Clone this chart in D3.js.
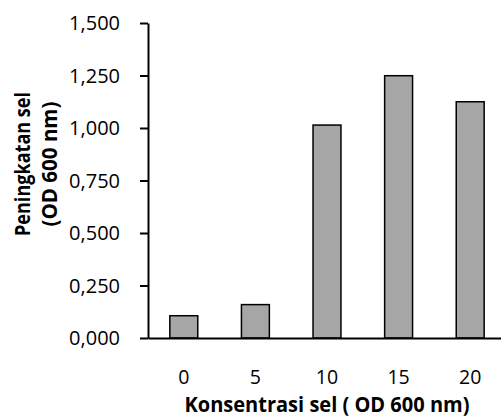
<!DOCTYPE html>
<html><head><meta charset="utf-8">
<script src="https://cdn.jsdelivr.net/npm/d3@7"></script>
<style>body{margin:0;background:#fff}svg{display:block}text{font-family:"Open Sans",sans-serif;fill:#000}</style>
</head><body><svg id="c" width="501" height="418"></svg>
<script>
const categories = ["0","5","10","15","20"];
const values = [0.106, 0.159, 1.014, 1.249, 1.125];
const yTicks = [0, 0.25, 0.5, 0.75, 1.0, 1.25, 1.5];
const xTitle = "Konsentrasi sel ( OD 600 nm)";
const yTitle = ["Peningkatan sel", "(OD 600 nm)"];

const svg = d3.select("#c");
const x = d3.scaleBand().domain(categories).range([148, 506]).paddingInner(0.61).paddingOuter(0.305);
const y = d3.scaleLinear().domain([0, 1.5]).range([338, 23]);
const fmt = v => d3.format(".3f")(v).replace(".", ",");

svg.selectAll("rect.bar").data(values).join("rect").attr("class","bar")
  .attr("x",(d,i)=>x(categories[i])).attr("width",x.bandwidth())
  .attr("y",d=>y(d)).attr("height",d=>y(0)-y(d))
  .attr("fill","#a6a6a6").attr("stroke","#000").attr("stroke-width",1.5);

const ya = svg.append("g").attr("transform","translate(148,0)")
  .call(d3.axisLeft(y).tickValues(yTicks).tickFormat(fmt).tickSize(8).tickSizeOuter(0));
ya.select(".domain").attr("stroke","#000").attr("stroke-width",2);
ya.selectAll(".tick line").attr("stroke","#000").attr("stroke-width",2);
ya.selectAll(".tick text").attr("x",-28).attr("dy","0.34em").style("font-size","20px").style("font-family","Open Sans");

const xa = svg.append("g").attr("transform","translate(0,338)")
  .call(d3.axisBottom(x).tickSize(0).tickSizeOuter(0));
xa.select(".domain").attr("stroke","#000").attr("stroke-width",2);
xa.selectAll(".tick text").attr("y",45.5).attr("dy",0).style("font-size","19.5px").style("font-family","Open Sans");

svg.append("text").attr("x",327).attr("y",411.5).attr("text-anchor","middle")
  .attr("textLength",285).attr("lengthAdjust","spacingAndGlyphs")
  .style("font-size","20.5px").style("font-weight","bold").text(xTitle);

const yLens = [144, 125];
const yBase = [30, 57];
yTitle.forEach((t,i)=> svg.append("text")
  .attr("transform",`translate(${yBase[i]},164) rotate(-90)`).attr("text-anchor","middle")
  .attr("textLength",yLens[i]).attr("lengthAdjust","spacingAndGlyphs")
  .style("font-size","21px").style("font-weight","bold").text(t));
</script></body></html>
